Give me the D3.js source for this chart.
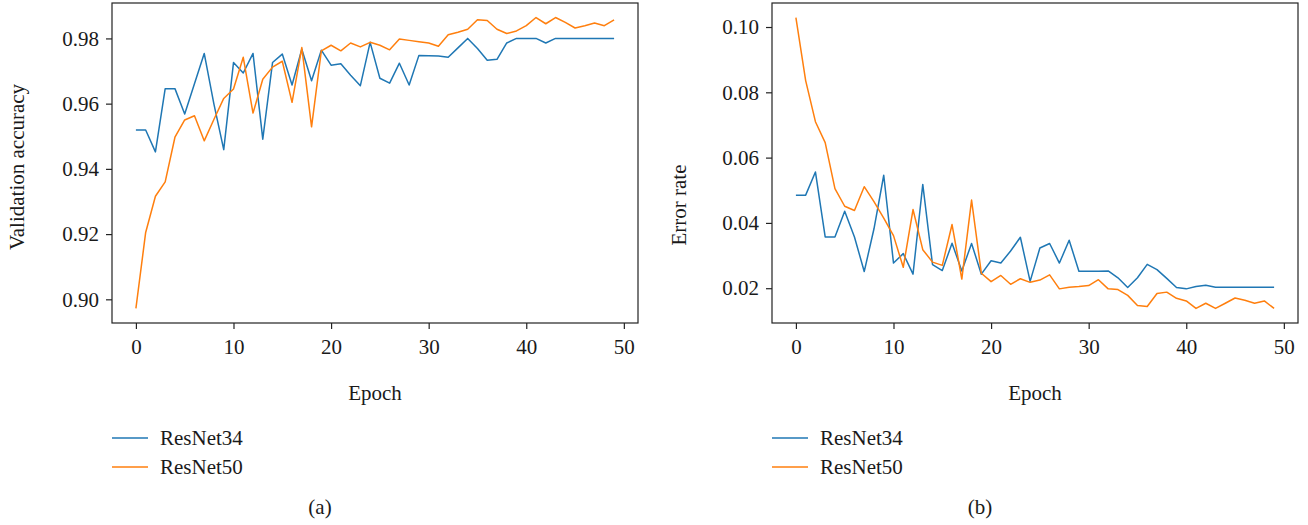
<!DOCTYPE html>
<html>
<head>
<meta charset="utf-8">
<script src="https://cdn.jsdelivr.net/npm/d3@7"></script>
<style>
  body { margin: 0; background: #fff; }
  text { font-family: "Liberation Serif", "Times New Roman", serif; fill: #1a1a1a; }
</style>
</head>
<body>
<div id="canvas"></div>
<script>
"use strict";

// Epochs 0..49
var epochs = d3.range(0, 50);

// (a) validation accuracy
var accResNet34 = [0.9519, 0.9519, 0.9452, 0.9646, 0.9646, 0.9568, 0.9661, 0.9754, 0.9598, 0.9459,
  0.9726, 0.9694, 0.9754, 0.9491, 0.9726, 0.9752, 0.9657, 0.9767, 0.9670, 0.9764,
  0.9718, 0.9722, 0.9687, 0.9655, 0.9788, 0.9678, 0.9663, 0.9724, 0.9657, 0.9748,
  0.9747, 0.9746, 0.9742, 0.9771, 0.9800, 0.9769, 0.9733, 0.9736, 0.9786, 0.9800,
  0.9800, 0.9800, 0.9786, 0.9800, 0.9800, 0.9800, 0.9800, 0.9800, 0.9800, 0.9800];
var accResNet50 = [0.8972, 0.9205, 0.9316, 0.9360, 0.9497, 0.9550, 0.9563, 0.9486, 0.9552, 0.9616,
  0.9645, 0.9742, 0.9571, 0.9675, 0.9712, 0.9730, 0.9604, 0.9772, 0.9529, 0.9762,
  0.9779, 0.9762, 0.9786, 0.9774, 0.9788, 0.9779, 0.9765, 0.9798, 0.9794, 0.9790,
  0.9786, 0.9776, 0.9811, 0.9819, 0.9828, 0.9857, 0.9855, 0.9828, 0.9815, 0.9823,
  0.9839, 0.9864, 0.9845, 0.9864, 0.9849, 0.9832, 0.9839, 0.9847, 0.9839, 0.9857];

// (b) error rate
var errResNet34 = [0.0485, 0.0485, 0.0556, 0.0357, 0.0357, 0.0436, 0.0357, 0.0251, 0.0382, 0.0546,
  0.0277, 0.0306, 0.0243, 0.0518, 0.0272, 0.0254, 0.0338, 0.0253, 0.0337, 0.0243,
  0.0284, 0.0277, 0.0314, 0.0356, 0.0221, 0.0323, 0.0337, 0.0277, 0.0347, 0.0252,
  0.0252, 0.0252, 0.0253, 0.0232, 0.0202, 0.0232, 0.0273, 0.0257, 0.0230, 0.0202,
  0.0198, 0.0205, 0.0209, 0.0203, 0.0203, 0.0203, 0.0203, 0.0203, 0.0203, 0.0203];
var errResNet50 = [0.1029, 0.0836, 0.0710, 0.0646, 0.0505, 0.0451, 0.0438, 0.0511, 0.0465, 0.0415,
  0.0361, 0.0264, 0.0441, 0.0318, 0.0280, 0.0270, 0.0395, 0.0228, 0.0470, 0.0246,
  0.0220, 0.0239, 0.0212, 0.0229, 0.0218, 0.0225, 0.0241, 0.0198, 0.0203, 0.0205,
  0.0208, 0.0226, 0.0198, 0.0196, 0.0178, 0.0147, 0.0144, 0.0184, 0.0188, 0.0169,
  0.0161, 0.0138, 0.0154, 0.0138, 0.0154, 0.0170, 0.0163, 0.0154, 0.0161, 0.0138];

// Tick labels
var xTicks = [0, 10, 20, 30, 40, 50];
var accTicks = [0.90, 0.92, 0.94, 0.96, 0.98];
var errTicks = [0.02, 0.04, 0.06, 0.08, 0.10];
var seriesNames = ["ResNet34", "ResNet50"];
var colors = ["#1f77b4", "#ff7f0e"];

// Dimensions
var width = 1308, height = 525;
var axesTop = 3, axesBottom = 323, axesWidth = 526;
var fontSize = 21;

var svg = d3.select("#canvas").append("svg")
  .attr("width", width)
  .attr("height", height);

svg.append("rect")
  .attr("width", width)
  .attr("height", height)
  .attr("fill", "#fff");

// Domain with matplotlib-like 5% margin
function padded(extent) {
  var pad = (extent[1] - extent[0]) * 0.05;
  return [extent[0] - pad, extent[1] + pad];
}

function drawPanel(opt) {
  var g = svg.append("g").attr("transform", "translate(" + opt.left + ",0)");

  var x = d3.scaleLinear()
    .domain(padded([0, epochs.length - 1]))
    .range([0, axesWidth]);

  var y = d3.scaleLinear()
    .domain(padded(d3.extent(opt.series[0].concat(opt.series[1]))))
    .range([axesBottom, axesTop]);

  // Lines
  var line = d3.line()
    .x(function (d, i) { return x(epochs[i]); })
    .y(function (d) { return y(d); });

  opt.series.forEach(function (s, i) {
    g.append("path")
      .datum(s)
      .attr("fill", "none")
      .attr("stroke", colors[i])
      .attr("stroke-width", 1.5)
      .attr("stroke-linejoin", "round")
      .attr("d", line);
  });

  // Axes
  var xAxis = g.append("g")
    .attr("transform", "translate(0," + axesBottom + ")")
    .call(d3.axisBottom(x).tickValues(xTicks).tickSize(6).tickPadding(10).tickFormat(d3.format("d")));

  var yAxis = g.append("g")
    .call(d3.axisLeft(y).tickValues(opt.ticks).tickSize(6).tickPadding(7).tickFormat(d3.format(".2f")));

  [xAxis, yAxis].forEach(function (a) {
    a.select(".domain").remove();
    a.selectAll("line").attr("stroke", "#222").attr("stroke-width", 1.2);
    a.selectAll("text").attr("font-size", fontSize).attr("fill", "#1a1a1a")
      .style("font-family", "'Liberation Serif', serif");
  });

  // Frame
  g.append("rect")
    .attr("x", 0)
    .attr("y", axesTop)
    .attr("width", axesWidth)
    .attr("height", axesBottom - axesTop)
    .attr("fill", "none")
    .attr("stroke", "#222")
    .attr("stroke-width", 1.2);

  // Axis labels
  g.append("text")
    .attr("x", axesWidth / 2)
    .attr("y", 400)
    .attr("text-anchor", "middle")
    .attr("font-size", fontSize)
    .text("Epoch");

  g.append("text")
    .attr("transform", "translate(" + opt.yLabelX + "," + opt.yLabelY + ") rotate(-90)")
    .attr("text-anchor", "middle")
    .attr("font-size", fontSize)
    .text(opt.yLabel);

  // Legend
  seriesNames.forEach(function (name, i) {
    var ly = 438 + i * 29;
    g.append("line")
      .attr("x1", 0).attr("x2", 36)
      .attr("y1", ly).attr("y2", ly)
      .attr("stroke", colors[i])
      .attr("stroke-width", 1.5);
    g.append("text")
      .attr("x", 48)
      .attr("y", ly + 7)
      .attr("font-size", fontSize)
      .text(name);
  });

  // Panel caption
  g.append("text")
    .attr("x", opt.captionX)
    .attr("y", 514)
    .attr("text-anchor", "middle")
    .attr("font-size", fontSize)
    .text(opt.caption);
}

drawPanel({
  left: 112,
  series: [accResNet34, accResNet50],
  ticks: accTicks,
  yLabel: "Validation accuracy",
  yLabelX: -88,
  yLabelY: 167,
  caption: "(a)",
  captionX: 208
});

drawPanel({
  left: 772,
  series: [errResNet34, errResNet50],
  ticks: errTicks,
  yLabel: "Error rate",
  yLabelX: -86,
  yLabelY: 205,
  caption: "(b)",
  captionX: 208
});
</script>
</body>
</html>
